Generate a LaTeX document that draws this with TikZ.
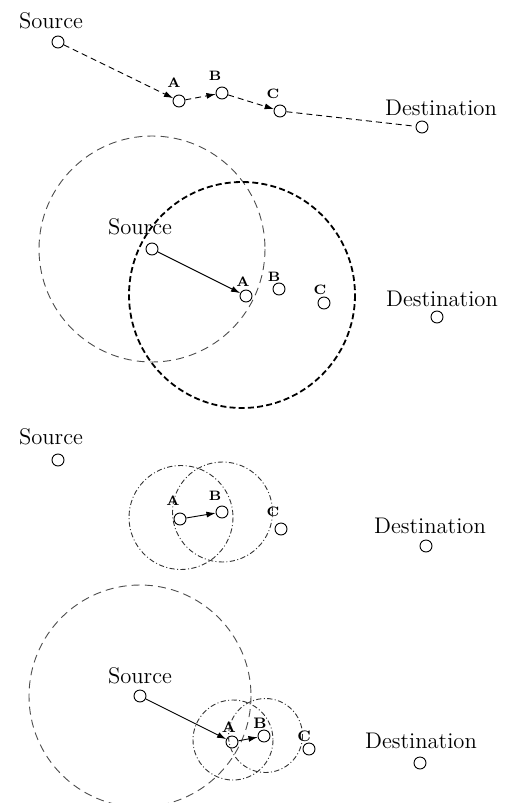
\documentclass[tikz,border=0pt]{standalone}
\usetikzlibrary{arrows.meta}
\begin{document}
\begin{tikzpicture}[x=0.5pt,y=-0.5pt,
  pt/.style={circle,draw,line width=0.45pt,minimum size=6pt,inner sep=0pt},
  lbl/.style={font=\fontsize{11.3}{13}\selectfont,inner sep=0pt},
  tag/.style={font=\fontsize{6.8}{8}\selectfont\bfseries,inner sep=0pt},
  bigtag/.style={font=\fontsize{7.6}{9}\selectfont\bfseries,inner sep=0pt},
  tip/.style={-{Latex[length=4.6pt,width=3pt]}},
  hop/.style={tip,line width=0.45pt,dash pattern=on 3pt off 2pt},
  path/.style={line width=0.45pt,dash pattern=on 3pt off 2pt},
  move/.style={tip,line width=0.45pt},
  widerange/.style={draw=black!70,line width=0.45pt,dash pattern=on 4pt off 2.6pt},
  boldrange/.style={draw=black,line width=0.9pt,dash pattern=on 3pt off 1.6pt},
  hoprange/.style={draw=black!80,line width=0.45pt,dash pattern=on 2.6pt off 1.2pt on 0.5pt off 1.2pt}]
\useasboundingbox (0,0) rectangle (509,803);

% ---- panel 1: the route found
\node[lbl] (s1t) at (51,21) {Source};
\node[pt] (s1) at (58,42) {};
\node[pt] (a1) at (179,101) {};
\node[pt] (b1) at (222,93) {};
\node[pt] (c1) at (280,111) {};
\node[pt] (d1) at (422,127) {};
\node[tag] (a1t) at (174,83) {A};
\node[tag] (b1t) at (215,76) {B};
\node[tag] (c1t) at (273,94) {C};
\node[lbl] (d1t) at (441,108) {Destination};
\draw[hop] (s1) -- (a1);
\draw[hop] (a1) -- (b1);
\draw[hop] (b1) -- (c1);
\draw[path] (c1) -- (d1);

% ---- panel 2: one long hop
\node[lbl] (s2t) at (140,227) {Source};
\node[pt] (s2) at (152,249) {};
\node[pt] (a2) at (246,296) {};
\node[pt] (b2) at (279,289) {};
\node[pt] (c2) at (324,303) {};
\node[pt] (d2) at (437,317) {};
\node[tag] (a2t) at (243,282) {A};
\node[tag] (b2t) at (274,277) {B};
\node[tag] (c2t) at (320,290) {C};
\node[lbl] (d2t) at (442,299) {Destination};
\draw[widerange] (s2.center) circle[radius=113];
\draw[boldrange] (242,295) circle[radius=113];
\draw[move] (s2) -- (a2);

% ---- panel 3: short hop from A to B
\node[lbl] (s3t) at (51,437) {Source};
\node[pt] (s3) at (58,460) {};
\node[pt] (a3) at (180,519) {};
\node[pt] (b3) at (222,512) {};
\node[pt] (c3) at (281,529) {};
\node[pt] (d3) at (426,546) {};
\node[tag] (a3t) at (173,501) {A};
\node[tag] (b3t) at (215,496) {B};
\node[tag] (c3t) at (273,512) {C};
\node[lbl] (d3t) at (430,526) {Destination};
\draw[hoprange] (181,517.5) circle[radius=52];
\draw[hoprange] (222.5,512) circle[radius=50];
\draw[move] (a3) -- (b3);

% ---- panel 4: long hop then short hop
\node[lbl] (s4t) at (140,676) {Source};
\node[pt] (s4) at (140,696) {};
\node[pt] (a4) at (232,742) {};
\node[pt] (b4) at (264,736) {};
\node[pt] (c4) at (309,749) {};
\node[pt] (d4) at (420,763) {};
\node[bigtag] (a4t) at (229,727) {A};
\node[bigtag] (b4t) at (260,723) {B};
\node[bigtag] (c4t) at (304,736) {C};
\node[lbl] (d4t) at (421,741) {Destination};
\draw[widerange] (s4.center) circle[radius=111];
\draw[hoprange] (233,740) circle[radius=40];
\draw[hoprange] (265.5,735.5) circle[radius=37];
\draw[move] (s4) -- (a4);
\draw[move] (a4) -- (b4);
\end{tikzpicture}
\end{document}
